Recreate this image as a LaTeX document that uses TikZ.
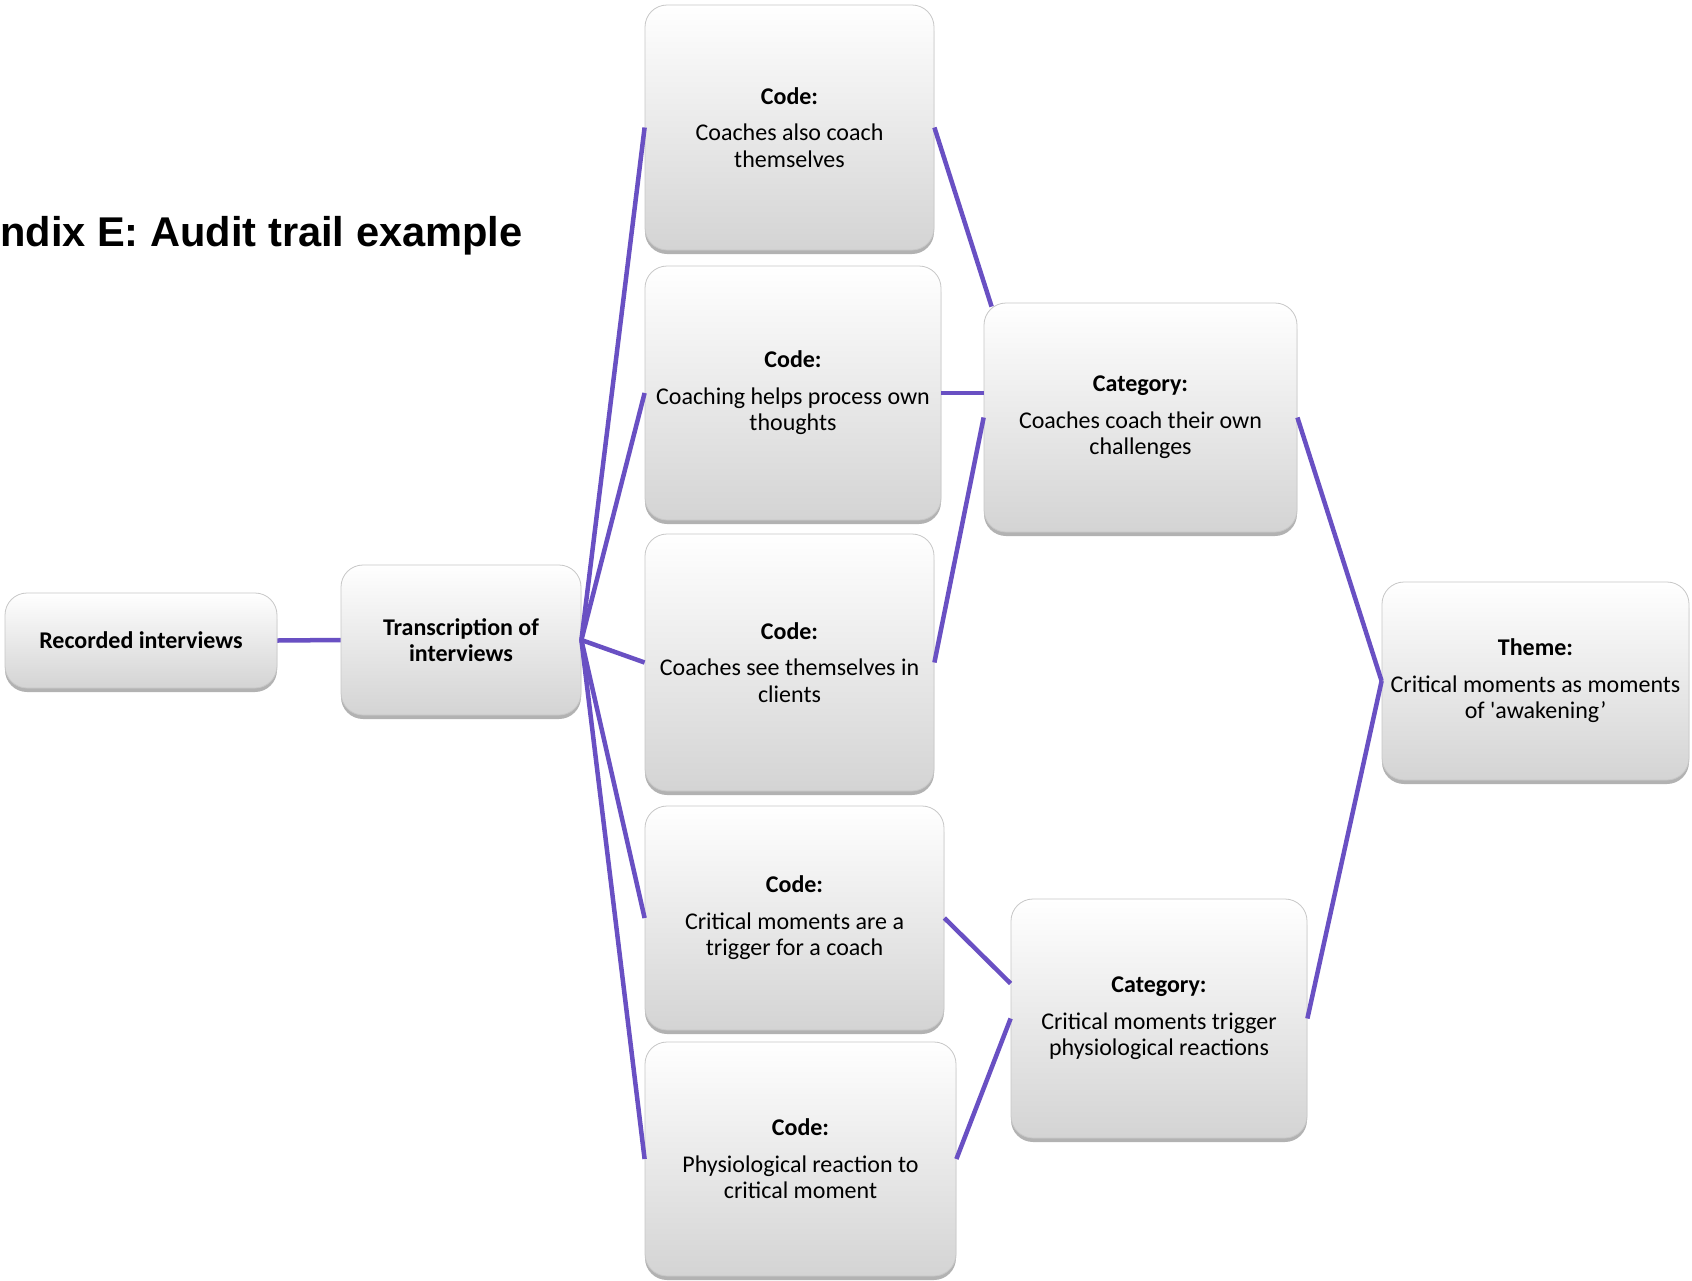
\documentclass[tikz,border=0pt]{standalone}
\usepackage{fontspec}
\setmainfont{Carlito}
\newfontfamily\titlefont{Liberation Sans}
\usetikzlibrary{shadows,calc}
\definecolor{conncol}{RGB}{105,80,195}
\begin{document}
\begin{tikzpicture}[x=1pt,y=-1pt,
  box/.style={draw=black!22, line width=0.8pt, rounded corners=22pt,
    top color=white, bottom color=black!17,
    drop shadow={shadow xshift=0pt, shadow yshift=-4pt, opacity=0.3, fill=black},
    align=center, inner sep=4pt, font=\fontsize{24}{26.5}\selectfont},
  conn/.style={draw=conncol, line width=4.5pt}]
\useasboundingbox (0,0) rectangle (1692,1280);
\fill[white] (0,0) rectangle (1692,1280);

\node[anchor=base west, inner sep=0pt, font=\titlefont\bfseries\fontsize{41.6}{50}\selectfont] (title) at (0,246) {ndix E: Audit trail example};

\node[box, minimum width=272pt, minimum height=95pt] (rec) at (141,640.5) {\bfseries Recorded interviews};
\node[box, minimum width=240pt, minimum height=150pt] (tra) at (461,640) {\bfseries Transcription of\\\bfseries interviews};

\node[box, minimum width=289pt, minimum height=245pt] (c1) at (789.5,127.5) {\bfseries Code:\\[10pt] Coaches also coach\\ themselves};
\node[box, minimum width=296pt, minimum height=254pt] (c2) at (793,393) {\bfseries Code:\\[10pt] Coaching helps process own\\ thoughts};
\node[box, minimum width=289pt, minimum height=257pt] (c3) at (789.5,662.5) {\bfseries Code:\\[10pt] Coaches see themselves in\\ clients};
\node[box, minimum width=299pt, minimum height=224pt] (c4) at (794.5,918) {\bfseries Code:\\[10pt] Critical moments are a\\ trigger for a coach};
\node[box, minimum width=311pt, minimum height=234pt] (c5) at (800.5,1159) {\bfseries Code:\\[10pt] Physiological reaction to\\ critical moment};

\node[box, minimum width=313pt, minimum height=229pt] (cat1) at (1140.5,417.5) {\bfseries Category:\\[10pt] Coaches coach their own\\ challenges};
\node[box, minimum width=296pt, minimum height=239pt] (cat2) at (1159,1018.5) {\bfseries Category:\\[10pt] Critical moments trigger\\ physiological reactions};

\node[box, minimum width=307pt, minimum height=198pt] (theme) at (1535.5,681) {\bfseries Theme:\\[10pt] Critical moments as moments\\ of \textquotesingle awakening’};

\coordinate (cat1in) at ($(cat1.north west)+(8,4)$);
\coordinate (cat2in) at ($(cat2.west)+(0,-35)$);

\draw[conn] (rec.east) -- (tra.west);
\draw[conn] (tra.east) -- (c1.west);
\draw[conn] (tra.east) -- (c2.west);
\draw[conn] (tra.east) -- (c3.west);
\draw[conn] (tra.east) -- (c4.west);
\draw[conn] (tra.east) -- (c5.west);
\draw[conn] (c1.east) -- (cat1in);
\draw[conn] (c2.east) -- (c2.east -| cat1.west);
\draw[conn] (c3.east) -- (cat1.west);
\draw[conn] (c4.east) -- (cat2in);
\draw[conn] (c5.east) -- (cat2.west);
\draw[conn] (cat1.east) -- (theme.west);
\draw[conn] (cat2.east) -- (theme.west);
\end{tikzpicture}
\end{document}
